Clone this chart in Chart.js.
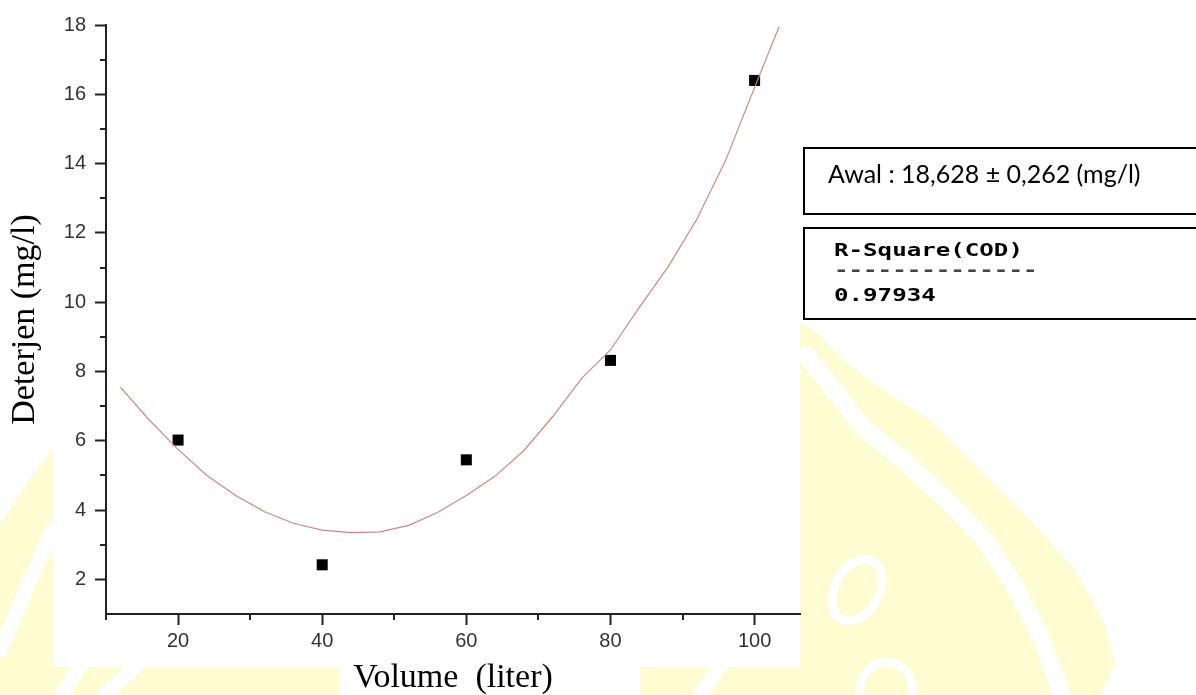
<!DOCTYPE html>
<html>
<head>
<meta charset="utf-8">
<title>Deterjen vs Volume</title>
<script src="https://cdn.jsdelivr.net/npm/chart.js@4/dist/chart.umd.min.js"></script>
<style>
  html, body { margin: 0; padding: 0; background: #fff; }
  #wrap { width: 1196px; height: 695px; }
</style>
</head>
<body>
<div id="wrap"><canvas id="chart" width="1196" height="695"></canvas></div>
<script>
const volume = [20, 40, 60, 80, 100];
const deterjen = [6.02, 2.42, 5.45, 8.32, 16.4];

// fitted curve
const fitVolume = [12, 16, 20, 24, 28, 32, 36, 40, 44, 48, 52, 56, 60, 64, 68, 72, 76, 80, 84, 88, 92, 96, 100, 103.4];
const fitDeterjen = [7.55, 6.6, 5.75, 5.0, 4.42, 3.95, 3.62, 3.42, 3.35, 3.37, 3.56, 3.93, 4.42, 4.98, 5.72, 6.7, 7.8, 8.62, 9.85, 11.02, 12.4, 14.1, 16.2, 17.95];

// axis ticks
const xMajorTicks = [20, 40, 60, 80, 100];
const xMinorTicks = [10, 30, 50, 70, 90];
const yMajorTicks = [2, 4, 6, 8, 10, 12, 14, 16, 18];
const yMinorTicks = [3, 5, 7, 9, 11, 13, 15, 17];

// side notes
const awalText = 'Awal : 18,628 \u00b1 0,262 (mg/l)';
const rsqTitle = 'R-Square(COD)';
const rsqDashes = '--------------';
const rsqValue = '0.97934';

const yellow = '#fefcd0';
const axisColor = '#222';

function poly(ctx, pts) {
    ctx.beginPath();
    ctx.moveTo(pts[0][0], pts[0][1]);
    for (let i = 1; i < pts.length; i++) ctx.lineTo(pts[i][0], pts[i][1]);
    ctx.closePath();
    ctx.fill();
}

function stroke(ctx, pts) {
    ctx.beginPath();
    ctx.moveTo(pts[0][0], pts[0][1]);
    for (let i = 1; i < pts.length; i++) ctx.lineTo(pts[i][0], pts[i][1]);
    ctx.stroke();
}

// pale watermark behind the figure + white figure panel
const backdrop = {
    id: 'backdrop',
    beforeDraw(chart) {
        const ctx = chart.ctx;
        ctx.save();
        ctx.fillStyle = '#fff';
        ctx.fillRect(0, 0, chart.width, chart.height);

        ctx.fillStyle = yellow;
        poly(ctx, [[0, 525], [30, 480], [53, 447], [53, 695], [0, 695]]);
        ctx.fillRect(0, 667, 340, 28);
        ctx.fillRect(640, 667, 460, 28);
        poly(ctx, [[800, 322], [820, 335], [840, 358], [880, 388], [930, 420], [980, 470], [1030, 520],
            [1075, 570], [1105, 625], [1115, 665], [1100, 695], [800, 695]]);

        ctx.strokeStyle = '#fff';
        ctx.lineCap = 'round';
        ctx.lineJoin = 'round';
        ctx.lineWidth = 15;
        stroke(ctx, [[0, 650], [53, 528]]);
        stroke(ctx, [[62, 695], [80, 667]]);
        stroke(ctx, [[105, 695], [135, 667]]);
        stroke(ctx, [[700, 695], [720, 667]]);
        ctx.lineWidth = 18;
        stroke(ctx, [[806, 355], [830, 385], [863, 427], [905, 462], [947, 500], [985, 540], [1013, 583], [1040, 635], [1062, 695]]);
        ctx.lineWidth = 9;
        ctx.beginPath();
        ctx.ellipse(857, 590, 22, 33, 0.5, 0, Math.PI * 2);
        ctx.stroke();
        ctx.beginPath();
        ctx.ellipse(886, 690, 26, 28, 0.3, Math.PI * 0.9, Math.PI * 2.3);
        ctx.stroke();

        ctx.fillStyle = '#fff';
        ctx.fillRect(53, 0, 747, 667);
        ctx.fillRect(0, 0, 53, 447);
        ctx.fillRect(340, 667, 300, 28);
        ctx.restore();
    }
};

// short minor ticks on both axes, placed through the scales
const minorTicks = {
    id: 'minorTicks',
    afterDraw(chart) {
        const ctx = chart.ctx;
        const xs = chart.scales.x;
        const ys = chart.scales.y;
        const area = chart.chartArea;
        ctx.save();
        ctx.strokeStyle = axisColor;
        ctx.lineWidth = 2;
        ctx.beginPath();
        xMinorTicks.forEach(v => {
            const px = Math.round(xs.getPixelForValue(v));
            ctx.moveTo(px, area.bottom);
            ctx.lineTo(px, area.bottom + 6);
        });
        yMinorTicks.forEach(v => {
            const py = Math.round(ys.getPixelForValue(v));
            ctx.moveTo(area.left - 6, py);
            ctx.lineTo(area.left, py);
        });
        ctx.stroke();
        ctx.restore();
    }
};

// the two note boxes on the right
const notes = {
    id: 'notes',
    afterDraw(chart) {
        const ctx = chart.ctx;
        ctx.save();
        ctx.strokeStyle = '#000';
        ctx.lineWidth = 2;
        ctx.fillStyle = '#fff';
        ctx.fillRect(804, 148, 400, 66);
        ctx.strokeRect(804, 148, 400, 66);
        ctx.fillRect(804, 228, 400, 91);
        ctx.strokeRect(804, 228, 400, 91);

        ctx.fillStyle = '#000';
        ctx.textBaseline = 'middle';
        ctx.textAlign = 'left';
        ctx.font = '25px Lato, "Open Sans", sans-serif';
        ctx.fillText(awalText, 828, 175);

        const mono = (txt, y, color) => {
            ctx.save();
            ctx.translate(834, y);
            ctx.scale(1.42, 1);
            ctx.fillStyle = color;
            ctx.font = 'bold 17px "DejaVu Sans Mono", monospace';
            ctx.fillText(txt, 0, 0);
            ctx.restore();
        };
        mono(rsqTitle, 252, '#000');
        mono(rsqDashes, 272, '#444');
        mono(rsqValue, 297, '#000');
        ctx.restore();
    }
};

const ctx = document.getElementById('chart').getContext('2d');

new Chart(ctx, {
    type: 'scatter',
    data: {
        datasets: [
            {
                label: 'Fit',
                data: fitVolume.map((v, i) => ({ x: v, y: fitDeterjen[i] })),
                showLine: true,
                borderColor: 'rgb(205, 135, 135)',
                borderWidth: 1.2,
                pointRadius: 0,
                tension: 0,
                fill: false
            },
            {
                label: 'Deterjen',
                data: volume.map((v, i) => ({ x: v, y: deterjen[i] })),
                pointStyle: 'rect',
                pointRadius: 7.8,
                pointBackgroundColor: '#000',
                pointBorderWidth: 0,
                showLine: false
            }
        ]
    },
    options: {
        responsive: false,
        devicePixelRatio: 1,
        animation: false,
        layout: { padding: { left: 0, top: 25, right: 396, bottom: 0 } },
        plugins: {
            legend: { display: false },
            tooltip: { enabled: false }
        },
        scales: {
            x: {
                type: 'linear',
                min: 10,
                max: 106.3,
                afterBuildTicks: s => { s.ticks = xMajorTicks.map(v => ({ value: v })); },
                afterFit: s => { s.height = 81; },
                grid: { display: true, drawOnChartArea: false, drawTicks: true, tickLength: 11, tickWidth: 2, tickColor: axisColor },
                border: { display: true, color: axisColor, width: 2 },
                ticks: {
                    color: '#333',
                    font: { family: '"Liberation Sans", Arial, sans-serif', size: 20 },
                    padding: 4,
                    maxRotation: 0,
                    autoSkip: false
                },
                title: {
                    display: true,
                    text: 'Volume  (liter)',
                    color: '#000',
                    font: { family: '"Liberation Serif", "Times New Roman", serif', size: 34, lineHeight: 1 },
                    padding: 0
                }
            },
            y: {
                type: 'linear',
                min: 1,
                max: 18,
                afterBuildTicks: s => { s.ticks = yMajorTicks.map(v => ({ value: v })); },
                afterFit: s => { s.width = 106; },
                grid: { display: true, drawOnChartArea: false, drawTicks: true, tickLength: 11, tickWidth: 2, tickColor: axisColor },
                border: { display: true, color: axisColor, width: 2 },
                ticks: {
                    color: '#333',
                    font: { family: '"Liberation Sans", Arial, sans-serif', size: 20 },
                    padding: 9,
                    autoSkip: false
                },
                title: {
                    display: true,
                    text: 'Deterjen (mg/l)',
                    color: '#000',
                    font: { family: '"Liberation Serif", "Times New Roman", serif', size: 34, lineHeight: 1 },
                    padding: { top: 8, bottom: 0 }
                }
            }
        }
    },
    plugins: [backdrop, minorTicks, notes]
});
</script>
</body>
</html>
